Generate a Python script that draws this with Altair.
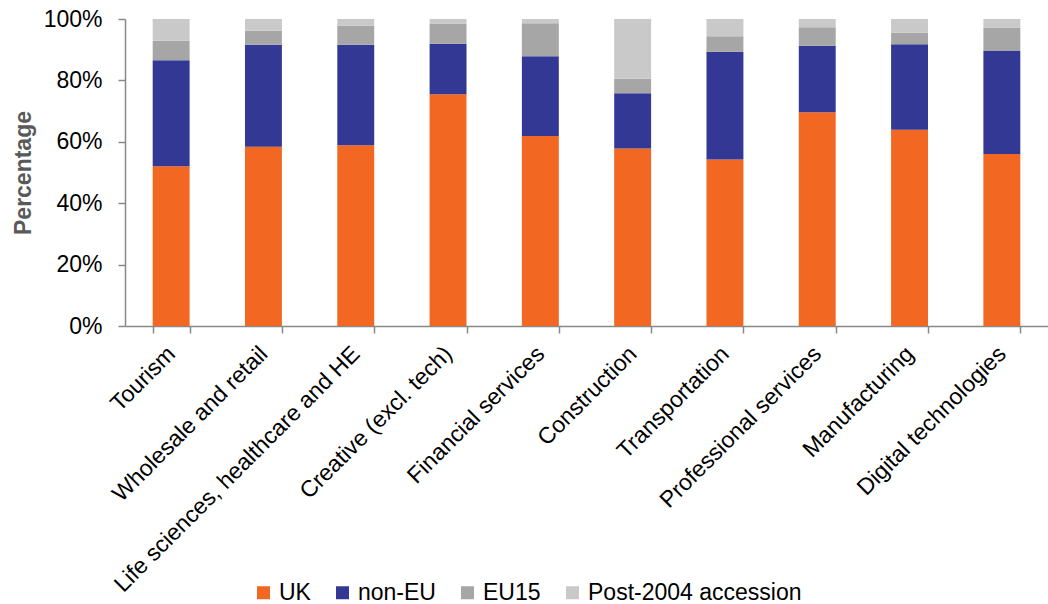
import altair as alt
import pandas as pd

categories = ["Tourism", "Wholesale and retail", "Life sciences, healthcare and HE",
              "Creative (excl. tech)", "Financial services", "Construction",
              "Transportation", "Professional services", "Manufacturing",
              "Digital technologies"]
uk = [52.0, 58.4, 58.9, 75.5, 61.9, 57.8, 54.2, 69.6, 63.9, 56.0]
non_eu = [34.6, 33.2, 32.7, 16.4, 26.0, 18.0, 35.1, 21.7, 27.9, 33.6]
eu15 = [6.3, 4.6, 6.2, 6.6, 10.7, 4.7, 5.1, 6.0, 3.7, 7.6]
post2004 = [7.1, 3.8, 2.2, 1.5, 1.4, 19.5, 5.6, 2.7, 4.5, 2.8]

groups = ["UK", "non-EU", "EU15", "Post-2004 accession"]
colors = ["#F26722", "#333895", "#A6A6A6", "#C9C9C9"]

rows = []
for gi, (g, vals) in enumerate(zip(groups, [uk, non_eu, eu15, post2004])):
    for c, v in zip(categories, vals):
        rows.append({"sector": c, "group": g, "value": v / 100.0, "order": gi})
df = pd.DataFrame(rows)

FONT = "Liberation Sans"
FS = 23

chart = alt.Chart(df).mark_bar().encode(
    x=alt.X("sector:N", sort=categories, title=None,
            scale=alt.Scale(paddingInner=0.6, paddingOuter=0.3),
            axis=alt.Axis(labelAngle=-45, labelAlign="right", labelBaseline="middle",
                          labelFontSize=FS, labelColor="#000000", labelFont=FONT,
                          labelPadding=17, tickBand="extent", tickSize=7,
                          tickColor="#888888", domainColor="#888888",
                          tickWidth=1.5, domainWidth=1.5, labelLimit=500)),
    y=alt.Y("value:Q", stack="zero", title="Percentage",
            scale=alt.Scale(domain=[0, 1], nice=False),
            axis=alt.Axis(format=".0%", values=[0, 0.2, 0.4, 0.6, 0.8, 1.0], grid=False,
                          labelFontSize=FS, labelColor="#000000", labelFont=FONT,
                          labelPadding=16, tickSize=7, tickColor="#888888",
                          domainColor="#888888", tickWidth=1.5, domainWidth=1.5,
                          titleFont=FONT, titleFontSize=FS, titleFontWeight="bold",
                          titleColor="#595959", titlePadding=8)),
    color=alt.Color("group:N", sort=groups,
                    scale=alt.Scale(domain=groups, range=colors),
                    legend=alt.Legend(title=None, orient="none", direction="horizontal",
                                      legendX=127, legendY=562, symbolType="square",
                                      symbolSize=169, symbolStrokeWidth=0,
                                      labelFont=FONT, labelFontSize=FS,
                                      labelColor="#000000", labelOffset=4,
                                      labelLimit=400, columnPadding=20, padding=0)),
    order=alt.Order("order:Q", sort="ascending"),
).properties(
    width=923, height=307,
    autosize=alt.AutoSizeParams(type="none"),
    padding={"left": 125, "top": 19, "right": 0, "bottom": 278},
).configure_view(stroke=None)

chart.save("out.html", embed_options={"renderer": "svg", "actions": False})
